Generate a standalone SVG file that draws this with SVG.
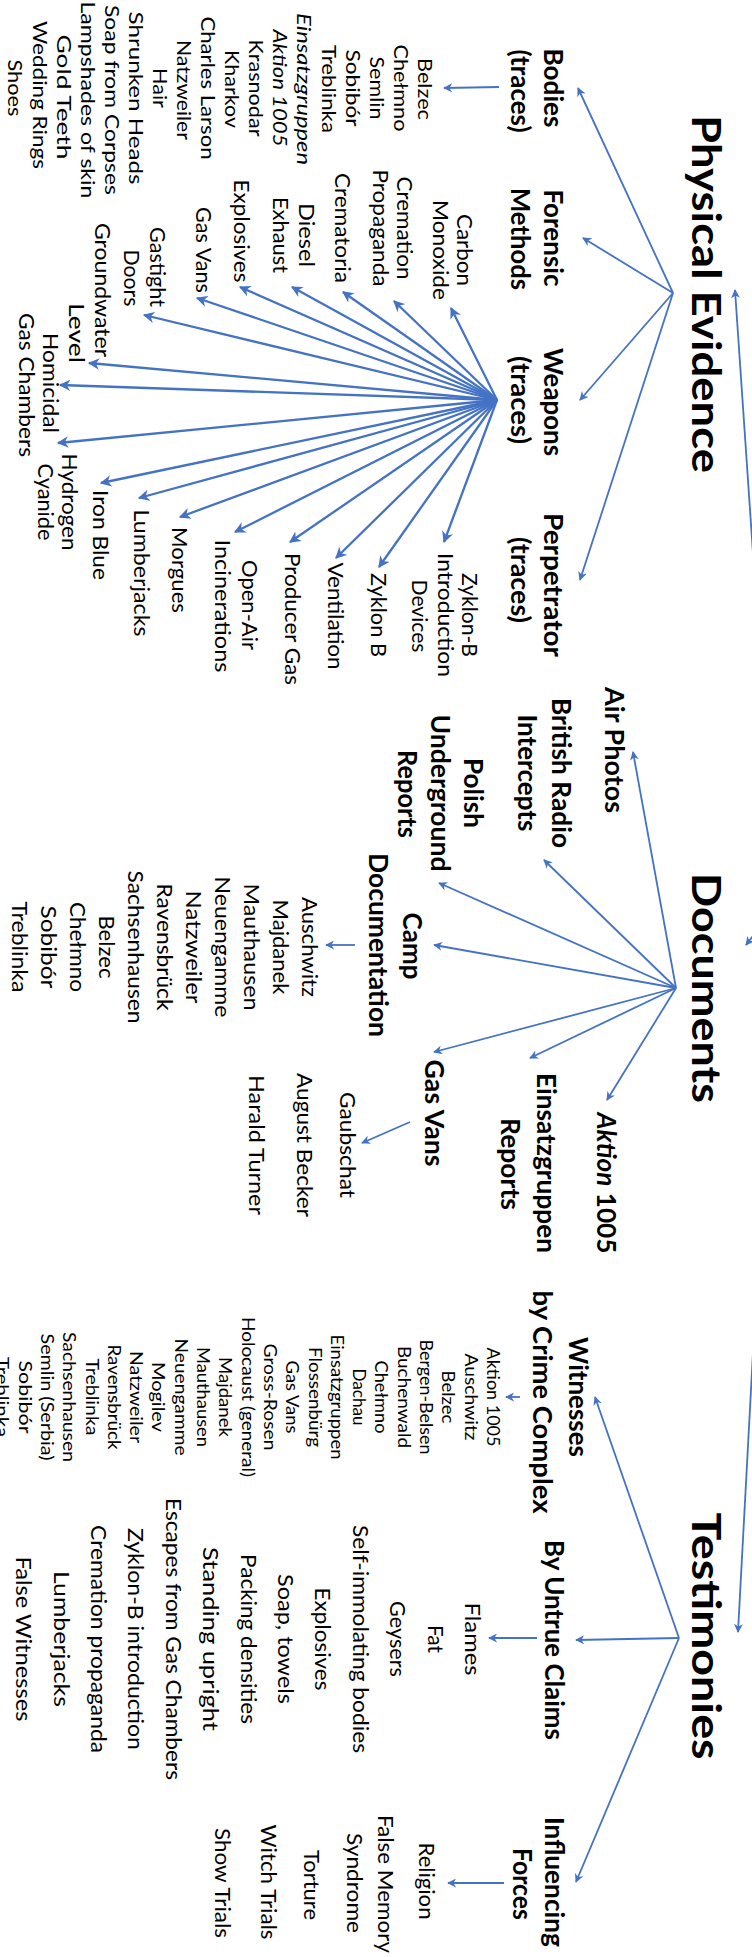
<svg xmlns="http://www.w3.org/2000/svg" width="752" height="1957" viewBox="0 0 752 1957">
<style>
  text { font-family: Lato, "Open Sans", "Liberation Sans", sans-serif; fill: #000; text-anchor: middle; }
  .h { font-size: 40px; font-weight: 700; }
  .n { font-size: 26px; font-weight: 700; }
  .l { font-size: 21px; }
  .b { font-size: 20px; }
  .s { font-size: 17px; }
  .it { font-style: italic; }
  #connectors line { stroke: #4472C4; stroke-width: 1.8; fill: none; marker-end: url(#ah); }
  #connectors .fan line { stroke-width: 2.3; }
</style>
<defs>
  <marker id="ah" viewBox="0 0 10 10" refX="9" refY="5" markerWidth="5" markerHeight="5" orient="auto">
    <path d="M0,0 L10,5 L0,10 L3,5 z" fill="#4472C4"/>
  </marker>
</defs>
<rect width="752" height="1957" fill="#fff"/>
<!-- whole chart is laid out landscape and turned a quarter turn clockwise -->
<g transform="translate(752 0) rotate(90)">
  <g id="connectors">
    <!-- root to the three headings -->
    <line x1="905" y1="-25" x2="290" y2="17"/>
    <line x1="905" y1="-25" x2="945" y2="6"/>
    <line x1="905" y1="-25" x2="1632" y2="14"/>
    <!-- physical evidence -->
    <line x1="293" y1="79" x2="88" y2="174"/>
    <line x1="293" y1="79" x2="238" y2="169"/>
    <line x1="293" y1="79" x2="400" y2="172"/>
    <line x1="293" y1="79" x2="580" y2="172"/>
    <line x1="87" y1="253" x2="88" y2="308"/>
    <g class="fan">
      <line x1="400" y1="255" x2="308" y2="301"/>
      <line x1="400" y1="255" x2="301" y2="358"/>
      <line x1="400" y1="255" x2="292" y2="409"/>
      <line x1="400" y1="255" x2="287" y2="460"/>
      <line x1="400" y1="255" x2="287" y2="512"/>
      <line x1="400" y1="255" x2="298" y2="555"/>
      <line x1="400" y1="255" x2="315" y2="608"/>
      <line x1="400" y1="255" x2="363" y2="663"/>
      <line x1="400" y1="255" x2="385" y2="692"/>
      <line x1="400" y1="255" x2="443" y2="694"/>
      <line x1="400" y1="255" x2="483" y2="651"/>
      <line x1="400" y1="255" x2="498" y2="613"/>
      <line x1="400" y1="255" x2="517" y2="572"/>
      <line x1="400" y1="255" x2="532" y2="517"/>
      <line x1="400" y1="255" x2="542" y2="462"/>
      <line x1="400" y1="255" x2="558" y2="416"/>
      <line x1="400" y1="255" x2="567" y2="373"/>
      <line x1="400" y1="255" x2="542" y2="308"/>
    </g>
    <!-- documents -->
    <line x1="988" y1="76" x2="752" y2="119"/>
    <line x1="988" y1="76" x2="860" y2="208"/>
    <line x1="988" y1="76" x2="883" y2="313"/>
    <line x1="988" y1="76" x2="945" y2="318"/>
    <line x1="988" y1="76" x2="1052" y2="318"/>
    <line x1="988" y1="76" x2="1058" y2="222"/>
    <line x1="988" y1="76" x2="1100" y2="145"/>
    <line x1="945" y1="397" x2="945" y2="426"/>
    <line x1="1122" y1="342" x2="1143" y2="390"/>
    <!-- testimonies -->
    <line x1="1638" y1="73" x2="1397" y2="157"/>
    <line x1="1638" y1="73" x2="1640" y2="176"/>
    <line x1="1638" y1="73" x2="1882" y2="176"/>
    <line x1="1397" y1="232" x2="1397" y2="246"/>
    <line x1="1638" y1="215" x2="1638" y2="263"/>
    <line x1="1883" y1="248" x2="1883" y2="304"/>
  </g>

  <!-- ===== Physical Evidence ===== -->
  <g id="physical-evidence"><text class="h" x="294" y="60" textLength="358" lengthAdjust="spacingAndGlyphs">Physical Evidence</text></g>
  <g id="bodies">
    <text class="n" x="88" y="208" textLength="79" lengthAdjust="spacingAndGlyphs">Bodies</text>
    <text class="n" x="91" y="241" textLength="83" lengthAdjust="spacingAndGlyphs">(traces)</text>
  </g>
  <g id="forensic-methods">
    <text class="n" x="238" y="208" textLength="97" lengthAdjust="spacingAndGlyphs">Forensic</text>
    <text class="n" x="239" y="241" textLength="102" lengthAdjust="spacingAndGlyphs">Methods</text>
  </g>
  <g id="weapons">
    <text class="n" x="402" y="208" textLength="108" lengthAdjust="spacingAndGlyphs">Weapons</text>
    <text class="n" x="400" y="241" textLength="88" lengthAdjust="spacingAndGlyphs">(traces)</text>
  </g>
  <g id="perpetrator">
    <text class="n" x="585" y="208" textLength="144" lengthAdjust="spacingAndGlyphs">Perpetrator</text>
    <text class="n" x="580" y="241" textLength="86" lengthAdjust="spacingAndGlyphs">(traces)</text>
  </g>
  <g id="bodies-list">
    <text class="b" x="89" y="334" textLength="62" lengthAdjust="spacingAndGlyphs">Belzec</text>
    <text class="b" x="88" y="358" textLength="87" lengthAdjust="spacingAndGlyphs">Chełmno</text>
    <text class="b" x="88" y="382" textLength="63" lengthAdjust="spacingAndGlyphs">Semlin</text>
    <text class="b" x="88" y="406" textLength="77" lengthAdjust="spacingAndGlyphs">Sobibór</text>
    <text class="b" x="89" y="430" textLength="88" lengthAdjust="spacingAndGlyphs">Treblinka</text>
    <text class="b it" x="89" y="455" textLength="152" lengthAdjust="spacingAndGlyphs">Einsatzgruppen</text>
    <text class="b it" x="88" y="479" textLength="117" lengthAdjust="spacingAndGlyphs">Aktion 1005</text>
    <text class="b" x="88" y="503" textLength="97" lengthAdjust="spacingAndGlyphs">Krasnodar</text>
    <text class="b" x="89" y="527" textLength="78" lengthAdjust="spacingAndGlyphs">Kharkov</text>
    <text class="b" x="88" y="551" textLength="143" lengthAdjust="spacingAndGlyphs">Charles Larson</text>
    <text class="b" x="90" y="575" textLength="100" lengthAdjust="spacingAndGlyphs">Natzweiler</text>
    <text class="b" x="88" y="599" textLength="40" lengthAdjust="spacingAndGlyphs">Hair</text>
    <text class="b" x="98" y="623" textLength="173" lengthAdjust="spacingAndGlyphs">Shrunken Heads</text>
    <text class="b" x="100" y="647" textLength="190" lengthAdjust="spacingAndGlyphs">Soap from Corpses</text>
    <text class="b" x="100" y="671" textLength="197" lengthAdjust="spacingAndGlyphs">Lampshades of skin</text>
    <text class="b" x="97" y="695" textLength="125" lengthAdjust="spacingAndGlyphs">Gold Teeth</text>
    <text class="b" x="95" y="719" textLength="148" lengthAdjust="spacingAndGlyphs">Wedding Rings</text>
    <text class="b" x="88" y="744" textLength="57" lengthAdjust="spacingAndGlyphs">Shoes</text>
  </g>
  <!-- weapons fan -->
  <g id="carbon-monoxide">
    <text class="l" x="250" y="295" textLength="72" lengthAdjust="spacingAndGlyphs">Carbon</text>
    <text class="l" x="250" y="319" textLength="100" lengthAdjust="spacingAndGlyphs">Monoxide</text>
  </g>
  <g id="cremation-propaganda">
    <text class="l" x="228" y="355" textLength="103" lengthAdjust="spacingAndGlyphs">Cremation</text>
    <text class="l" x="228" y="379" textLength="117" lengthAdjust="spacingAndGlyphs">Propaganda</text>
  </g>
  <g id="crematoria"><text class="l" x="228" y="417" textLength="110" lengthAdjust="spacingAndGlyphs">Crematoria</text></g>
  <g id="diesel-exhaust">
    <text class="l" x="235" y="453" textLength="64" lengthAdjust="spacingAndGlyphs">Diesel</text>
    <text class="l" x="235" y="479" textLength="76" lengthAdjust="spacingAndGlyphs">Exhaust</text>
  </g>
  <g id="explosives"><text class="l" x="231" y="518" textLength="103" lengthAdjust="spacingAndGlyphs">Explosives</text></g>
  <g id="gas-vans-pe"><text class="l" x="250" y="556" textLength="86" lengthAdjust="spacingAndGlyphs">Gas Vans</text></g>
  <g id="gastight-doors">
    <text class="l" x="267" y="602" textLength="80" lengthAdjust="spacingAndGlyphs">Gastight</text>
    <text class="l" x="278" y="628" textLength="57" lengthAdjust="spacingAndGlyphs">Doors</text>
  </g>
  <g id="groundwater-level">
    <text class="l" x="290" y="657" textLength="134" lengthAdjust="spacingAndGlyphs">Groundwater</text>
    <text class="l" x="333" y="683" textLength="60" lengthAdjust="spacingAndGlyphs">Level</text>
  </g>
  <g id="homicidal-gas-chambers">
    <text class="l" x="383" y="709" textLength="100" lengthAdjust="spacingAndGlyphs">Homicidal</text>
    <text class="l" x="385" y="733" textLength="144" lengthAdjust="spacingAndGlyphs">Gas Chambers</text>
  </g>
  <g id="hydrogen-cyanide">
    <text class="l" x="502" y="690" textLength="97" lengthAdjust="spacingAndGlyphs">Hydrogen</text>
    <text class="l" x="502" y="714" textLength="77" lengthAdjust="spacingAndGlyphs">Cyanide</text>
  </g>
  <g id="iron-blue"><text class="l" x="535" y="659" textLength="90" lengthAdjust="spacingAndGlyphs">Iron Blue</text></g>
  <g id="lumberjacks-pe"><text class="l" x="573" y="618" textLength="127" lengthAdjust="spacingAndGlyphs">Lumberjacks</text></g>
  <g id="morgues"><text class="l" x="570" y="580" textLength="86" lengthAdjust="spacingAndGlyphs">Morgues</text></g>
  <g id="open-air-incinerations">
    <text class="l" x="605" y="510" textLength="90" lengthAdjust="spacingAndGlyphs">Open-Air</text>
    <text class="l" x="606" y="537" textLength="133" lengthAdjust="spacingAndGlyphs">Incinerations</text>
  </g>
  <g id="producer-gas"><text class="l" x="619" y="467" textLength="132" lengthAdjust="spacingAndGlyphs">Producer Gas</text></g>
  <g id="ventilation"><text class="l" x="616" y="424" textLength="107" lengthAdjust="spacingAndGlyphs">Ventilation</text></g>
  <g id="zyklon-b"><text class="l" x="615" y="381" textLength="84" lengthAdjust="spacingAndGlyphs">Zyklon B</text></g>
  <g id="zyklon-b-devices">
    <text class="l" x="615" y="290" textLength="84" lengthAdjust="spacingAndGlyphs">Zyklon-B</text>
    <text class="l" x="615" y="314" textLength="124" lengthAdjust="spacingAndGlyphs">Introduction</text>
    <text class="l" x="616" y="340" textLength="73" lengthAdjust="spacingAndGlyphs">Devices</text>
  </g>

  <!-- ===== Documents ===== -->
  <g id="documents"><text class="h" x="988" y="60" textLength="230" lengthAdjust="spacingAndGlyphs">Documents</text></g>
  <g id="air-photos"><text class="n" x="750" y="147" textLength="126" lengthAdjust="spacingAndGlyphs">Air Photos</text></g>
  <g id="british-radio">
    <text class="n" x="773" y="200" textLength="150" lengthAdjust="spacingAndGlyphs">British Radio</text>
    <text class="n" x="773" y="234" textLength="117" lengthAdjust="spacingAndGlyphs">Intercepts</text>
  </g>
  <g id="polish-underground">
    <text class="n" x="793" y="288" textLength="70" lengthAdjust="spacingAndGlyphs">Polish</text>
    <text class="n" x="793" y="321" textLength="157" lengthAdjust="spacingAndGlyphs">Underground</text>
    <text class="n" x="794" y="354" textLength="88" lengthAdjust="spacingAndGlyphs">Reports</text>
  </g>
  <g id="camp-documentation">
    <text class="n" x="946" y="349" textLength="67" lengthAdjust="spacingAndGlyphs">Camp</text>
    <text class="n" x="945" y="383" textLength="184" lengthAdjust="spacingAndGlyphs">Documentation</text>
  </g>
  <g id="camp-list">
    <text class="l" x="947" y="450" textLength="100" lengthAdjust="spacingAndGlyphs">Auschwitz</text>
    <text class="l" x="947" y="479" textLength="95" lengthAdjust="spacingAndGlyphs">Majdanek</text>
    <text class="l" x="947" y="508" textLength="127" lengthAdjust="spacingAndGlyphs">Mauthausen</text>
    <text class="l" x="947" y="537" textLength="141" lengthAdjust="spacingAndGlyphs">Neuengamme</text>
    <text class="l" x="947" y="566" textLength="113" lengthAdjust="spacingAndGlyphs">Natzweiler</text>
    <text class="l" x="947" y="595" textLength="127" lengthAdjust="spacingAndGlyphs">Ravensbrück</text>
    <text class="l" x="947" y="624" textLength="153" lengthAdjust="spacingAndGlyphs">Sachsenhausen</text>
    <text class="l" x="947" y="653" textLength="63" lengthAdjust="spacingAndGlyphs">Belzec</text>
    <text class="l" x="947" y="682" textLength="90" lengthAdjust="spacingAndGlyphs">Chełmno</text>
    <text class="l" x="947" y="711" textLength="83" lengthAdjust="spacingAndGlyphs">Sobibór</text>
    <text class="l" x="947" y="740" textLength="91" lengthAdjust="spacingAndGlyphs">Treblinka</text>
  </g>
  <g id="gas-vans-doc"><text class="n" x="1113" y="327" textLength="107" lengthAdjust="spacingAndGlyphs">Gas Vans</text></g>
  <g id="gas-vans-list">
    <text class="l" x="1145" y="412" textLength="106" lengthAdjust="spacingAndGlyphs">Gaubschat</text>
    <text class="l" x="1145" y="455" textLength="144" lengthAdjust="spacingAndGlyphs">August Becker</text>
    <text class="l" x="1145" y="503" textLength="140" lengthAdjust="spacingAndGlyphs">Harald Turner</text>
  </g>
  <g id="einsatzgruppen-reports">
    <text class="n" x="1163" y="215" textLength="180" lengthAdjust="spacingAndGlyphs">Einsatzgruppen</text>
    <text class="n" x="1164" y="251" textLength="92" lengthAdjust="spacingAndGlyphs">Reports</text>
  </g>
  <g id="aktion-1005"><text class="n" x="1183" y="155" textLength="141" lengthAdjust="spacingAndGlyphs"><tspan class="it">Aktion</tspan> 1005</text></g>

  <!-- ===== Testimonies ===== -->
  <g id="testimonies"><text class="h" x="1636" y="60" textLength="247" lengthAdjust="spacingAndGlyphs">Testimonies</text></g>
  <g id="witnesses">
    <text class="n" x="1397" y="183" textLength="120" lengthAdjust="spacingAndGlyphs">Witnesses</text>
    <text class="n" x="1402" y="219" textLength="223" lengthAdjust="spacingAndGlyphs">by Crime Complex</text>
  </g>
  <g id="witness-list">
    <text class="s" x="1397" y="265" textLength="99" lengthAdjust="spacingAndGlyphs">Aktion 1005</text>
    <text class="s" x="1397" y="287" textLength="87" lengthAdjust="spacingAndGlyphs">Auschwitz</text>
    <text class="s" x="1397" y="310" textLength="53" lengthAdjust="spacingAndGlyphs">Belzec</text>
    <text class="s" x="1397" y="332" textLength="115" lengthAdjust="spacingAndGlyphs">Bergen-Belsen</text>
    <text class="s" x="1397" y="354" textLength="102" lengthAdjust="spacingAndGlyphs">Buchenwald</text>
    <text class="s" x="1397" y="377" textLength="73" lengthAdjust="spacingAndGlyphs">Chełmno</text>
    <text class="s" x="1397" y="399" textLength="57" lengthAdjust="spacingAndGlyphs">Dachau</text>
    <text class="s" x="1397" y="421" textLength="125" lengthAdjust="spacingAndGlyphs">Einsatzgruppen</text>
    <text class="s" x="1397" y="443" textLength="100" lengthAdjust="spacingAndGlyphs">Flossenbürg</text>
    <text class="s" x="1397" y="466" textLength="73" lengthAdjust="spacingAndGlyphs">Gas Vans</text>
    <text class="s" x="1397" y="488" textLength="107" lengthAdjust="spacingAndGlyphs">Gross-Rosen</text>
    <text class="s" x="1397" y="510" textLength="160" lengthAdjust="spacingAndGlyphs">Holocaust (general)</text>
    <text class="s" x="1397" y="533" textLength="80" lengthAdjust="spacingAndGlyphs">Majdanek</text>
    <text class="s" x="1397" y="555" textLength="100" lengthAdjust="spacingAndGlyphs">Mauthausen</text>
    <text class="s" x="1397" y="577" textLength="117" lengthAdjust="spacingAndGlyphs">Neuengamme</text>
    <text class="s" x="1397" y="600" textLength="70" lengthAdjust="spacingAndGlyphs">Mogilev</text>
    <text class="s" x="1397" y="622" textLength="92" lengthAdjust="spacingAndGlyphs">Natzweiler</text>
    <text class="s" x="1397" y="644" textLength="105" lengthAdjust="spacingAndGlyphs">Ravensbrück</text>
    <text class="s" x="1397" y="666" textLength="77" lengthAdjust="spacingAndGlyphs">Treblinka</text>
    <text class="s" x="1397" y="689" textLength="130" lengthAdjust="spacingAndGlyphs">Sachsenhausen</text>
    <text class="s" x="1397" y="711" textLength="127" lengthAdjust="spacingAndGlyphs">Semlin (Serbia)</text>
    <text class="s" x="1397" y="733" textLength="73" lengthAdjust="spacingAndGlyphs">Sobibór</text>
    <text class="s" x="1397" y="756" textLength="80" lengthAdjust="spacingAndGlyphs">Treblinka</text>
  </g>
  <g id="untrue-claims"><text class="n" x="1640" y="207" textLength="200" lengthAdjust="spacingAndGlyphs">By Untrue Claims</text></g>
  <g id="untrue-list">
    <text class="l" x="1639" y="287" textLength="73" lengthAdjust="spacingAndGlyphs">Flames</text>
    <text class="l" x="1639" y="324" textLength="28" lengthAdjust="spacingAndGlyphs">Fat</text>
    <text class="l" x="1639" y="362" textLength="76" lengthAdjust="spacingAndGlyphs">Geysers</text>
    <text class="l" x="1639" y="399" textLength="228" lengthAdjust="spacingAndGlyphs">Self-immolating bodies</text>
    <text class="l" x="1639" y="437" textLength="103" lengthAdjust="spacingAndGlyphs">Explosives</text>
    <text class="l" x="1639" y="474" textLength="130" lengthAdjust="spacingAndGlyphs">Soap, towels</text>
    <text class="l" x="1639" y="511" textLength="170" lengthAdjust="spacingAndGlyphs">Packing densities</text>
    <text class="l" x="1639" y="549" textLength="184" lengthAdjust="spacingAndGlyphs">Standing upright</text>
    <text class="l" x="1639" y="586" textLength="282" lengthAdjust="spacingAndGlyphs">Escapes from Gas Chambers</text>
    <text class="l" x="1639" y="624" textLength="222" lengthAdjust="spacingAndGlyphs">Zyklon-B introduction</text>
    <text class="l" x="1639" y="661" textLength="228" lengthAdjust="spacingAndGlyphs">Cremation propaganda</text>
    <text class="l" x="1639" y="698" textLength="136" lengthAdjust="spacingAndGlyphs">Lumberjacks</text>
    <text class="l" x="1639" y="736" textLength="165" lengthAdjust="spacingAndGlyphs">False Witnesses</text>
  </g>
  <g id="influencing-forces">
    <text class="n" x="1882" y="207" textLength="130" lengthAdjust="spacingAndGlyphs">Influencing</text>
    <text class="n" x="1884" y="239" textLength="72" lengthAdjust="spacingAndGlyphs">Forces</text>
  </g>
  <g id="influencing-list">
    <text class="l" x="1881" y="333" textLength="77" lengthAdjust="spacingAndGlyphs">Religion</text>
    <text class="l" x="1884" y="374" textLength="138" lengthAdjust="spacingAndGlyphs">False Memory</text>
    <text class="l" x="1883" y="405" textLength="100" lengthAdjust="spacingAndGlyphs">Syndrome</text>
    <text class="l" x="1885" y="448" textLength="70" lengthAdjust="spacingAndGlyphs">Torture</text>
    <text class="l" x="1882" y="491" textLength="115" lengthAdjust="spacingAndGlyphs">Witch Trials</text>
    <text class="l" x="1883" y="537" textLength="110" lengthAdjust="spacingAndGlyphs">Show Trials</text>
  </g>
</g>
</svg>
